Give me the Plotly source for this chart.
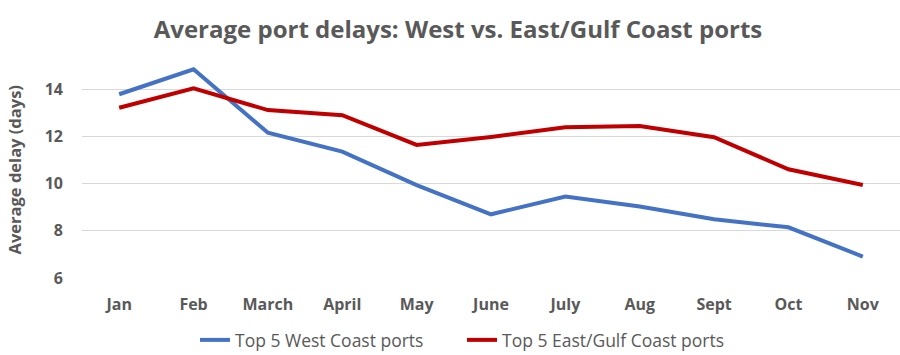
import plotly.graph_objects as go

months = ["Jan", "Feb", "March", "April", "May", "June", "July", "Aug", "Sept", "Oct", "Nov"]
west = [13.79, 14.85, 12.16, 11.36, 9.94, 8.70, 9.45, 9.03, 8.49, 8.15, 6.91]
east = [13.22, 14.04, 13.12, 12.90, 11.64, 11.98, 12.39, 12.44, 11.97, 10.61, 9.94]
y_ticks = [6, 8, 10, 12, 14]

FONT = "Open Sans"
GRAY = "#595959"

fig = go.Figure()
fig.add_trace(go.Scatter(x=months, y=west, mode="lines", name="Top 5 West Coast ports",
                         line=dict(color="#4472C4", width=4)))
fig.add_trace(go.Scatter(x=months, y=east, mode="lines", name="Top 5 East/Gulf Coast ports",
                         line=dict(color="#C00000", width=4)))

fig.update_layout(
    width=900, height=355,
    margin=dict(l=82, r=0, t=61, b=77),
    paper_bgcolor="white", plot_bgcolor="white",
    font=dict(family=FONT, color=GRAY),
    title=dict(text="<b>Average port delays: West vs. East/Gulf Coast ports</b>",
               font=dict(family=FONT, size=24, color=GRAY),
               x=458 / 900, xanchor="center", y=1 - 30 / 355, yanchor="middle", yref="container"),
    showlegend=True,
    legend=dict(orientation="h", xref="container", yref="container",
                x=462 / 900, xanchor="center", y=1 - 340 / 355, yanchor="middle",
                font=dict(family=FONT, size=17.5, color=GRAY), itemwidth=30,
                entrywidth=222, entrywidthmode="pixels", tracegroupgap=0),
    xaxis=dict(showgrid=False, showline=False, zeroline=False, range=[-0.5, 10.5],
               tickfont=dict(family=FONT, size=16, color=GRAY, weight="bold"),
               ticklabelstandoff=15, fixedrange=True),
    yaxis=dict(range=[6, 15.2], tickvals=y_ticks, showgrid=True, gridcolor="#D9D9D9",
               gridwidth=1, zeroline=False, showline=False,
               tickfont=dict(family=FONT, size=16, color=GRAY, weight="bold"),
               ticklabelstandoff=18),
)

fig.add_annotation(text="<b>Average delay (days)</b>", textangle=-90,
                   xref="paper", yref="paper", x=-0.082, y=0.5,
                   xanchor="center", yanchor="middle", showarrow=False,
                   font=dict(family=FONT, size=16.5, color=GRAY))

fig.write_html("out.html")
